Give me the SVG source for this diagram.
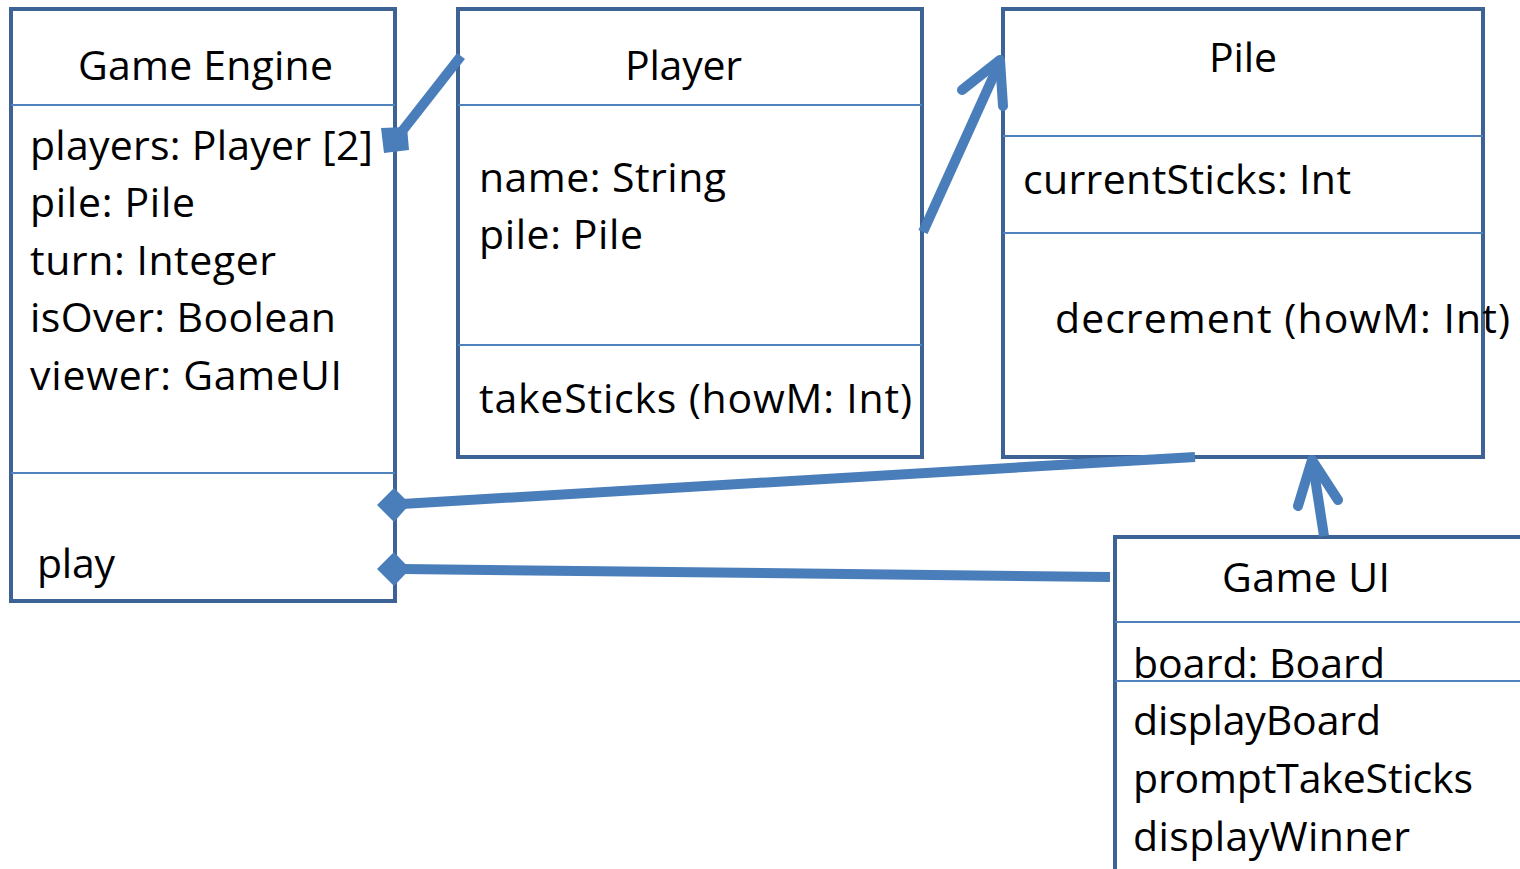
<svg xmlns="http://www.w3.org/2000/svg" width="1520" height="869" viewBox="0 0 1520 869">
<style>
.box{fill:#fff;stroke:#3d6395;stroke-width:4}
.div{stroke:#4f81bd;stroke-width:2}
.t{font-family:"Open Sans",Lato,sans-serif;font-size:41px;fill:#000}
.c{text-anchor:middle}
.conn{stroke:#4a7ebb;stroke-width:10;fill:none}
.arr{stroke:#4a7ebb;stroke-width:10;fill:none;stroke-linecap:round;stroke-linejoin:round}
.dia{fill:#4a7ebb}
</style>
<rect width="1520" height="869" fill="#fff"/>
<g id="game-engine">
<rect class="box" x="11" y="9" width="384" height="592"/>
<line class="div" x1="11" y1="105" x2="395" y2="105"/>
<line class="div" x1="11" y1="473" x2="395" y2="473"/>
<text class="t" x="78" y="80" textLength="255">Game Engine</text>
<text class="t" x="30" y="160" textLength="343">players: Player [2]</text>
<text class="t" x="30" y="217" textLength="165">pile: Pile</text>
<text class="t" x="30" y="275" textLength="246">turn: Integer</text>
<text class="t" x="30" y="332" textLength="306">isOver: Boolean</text>
<text class="t" x="30" y="390" textLength="312">viewer: GameUI</text>
<text class="t" x="37" y="578" textLength="78">play</text>
</g>
<g id="player">
<rect class="box" x="458" y="9" width="464" height="448"/>
<line class="div" x1="458" y1="105" x2="922" y2="105"/>
<line class="div" x1="458" y1="345" x2="922" y2="345"/>
<text class="t" x="625" y="80" textLength="117">Player</text>
<text class="t" x="479" y="192" textLength="247">name: String</text>
<text class="t" x="479" y="249" textLength="164">pile: Pile</text>
<text class="t" x="479" y="413" textLength="433">takeSticks (howM: Int)</text>
</g>
<g id="pile">
<rect class="box" x="1003" y="9" width="480" height="448"/>
<line class="div" x1="1003" y1="136" x2="1483" y2="136"/>
<line class="div" x1="1003" y1="233" x2="1483" y2="233"/>
<text class="t" x="1209" y="72" textLength="68">Pile</text>
<text class="t" x="1023" y="194" textLength="328">currentSticks: Int</text>
<text class="t" x="1055" y="333" textLength="455">decrement (howM: Int)</text>
</g>
<g id="game-ui">
<rect class="box" x="1115" y="537" width="420" height="350"/>
<line class="div" x1="1115" y1="622" x2="1520" y2="622"/>
<line class="div" x1="1115" y1="681" x2="1520" y2="681"/>
<text class="t" x="1222" y="592" textLength="168">Game UI</text>
<text class="t" x="1133" y="678" textLength="252">board: Board</text>
<text class="t" x="1133" y="735" textLength="248">displayBoard</text>
<text class="t" x="1133" y="793" textLength="340">promptTakeSticks</text>
<text class="t" x="1133" y="851" textLength="277">displayWinner</text>
</g>
<g id="connectors">
<line class="conn" x1="461" y1="56" x2="396" y2="139"/>
<polygon class="dia" points="381,128 407,127 409,150 384,153"/>
<line class="conn" x1="923" y1="232" x2="999" y2="64"/>
<polyline class="arr" points="962,90 1000,60 1003,106"/>
<line class="conn" x1="1195" y1="457" x2="402" y2="504"/>
<polygon class="dia" points="377,505 394,488 410,504 394,522"/>
<line class="conn" x1="1110" y1="577" x2="402" y2="569"/>
<polygon class="dia" points="377,569 394,552 410,569 394,586"/>
<line class="conn" x1="1324" y1="536" x2="1313" y2="465"/>
<polyline class="arr" points="1298,506 1312,460 1338,500"/>
</g>
</svg>
